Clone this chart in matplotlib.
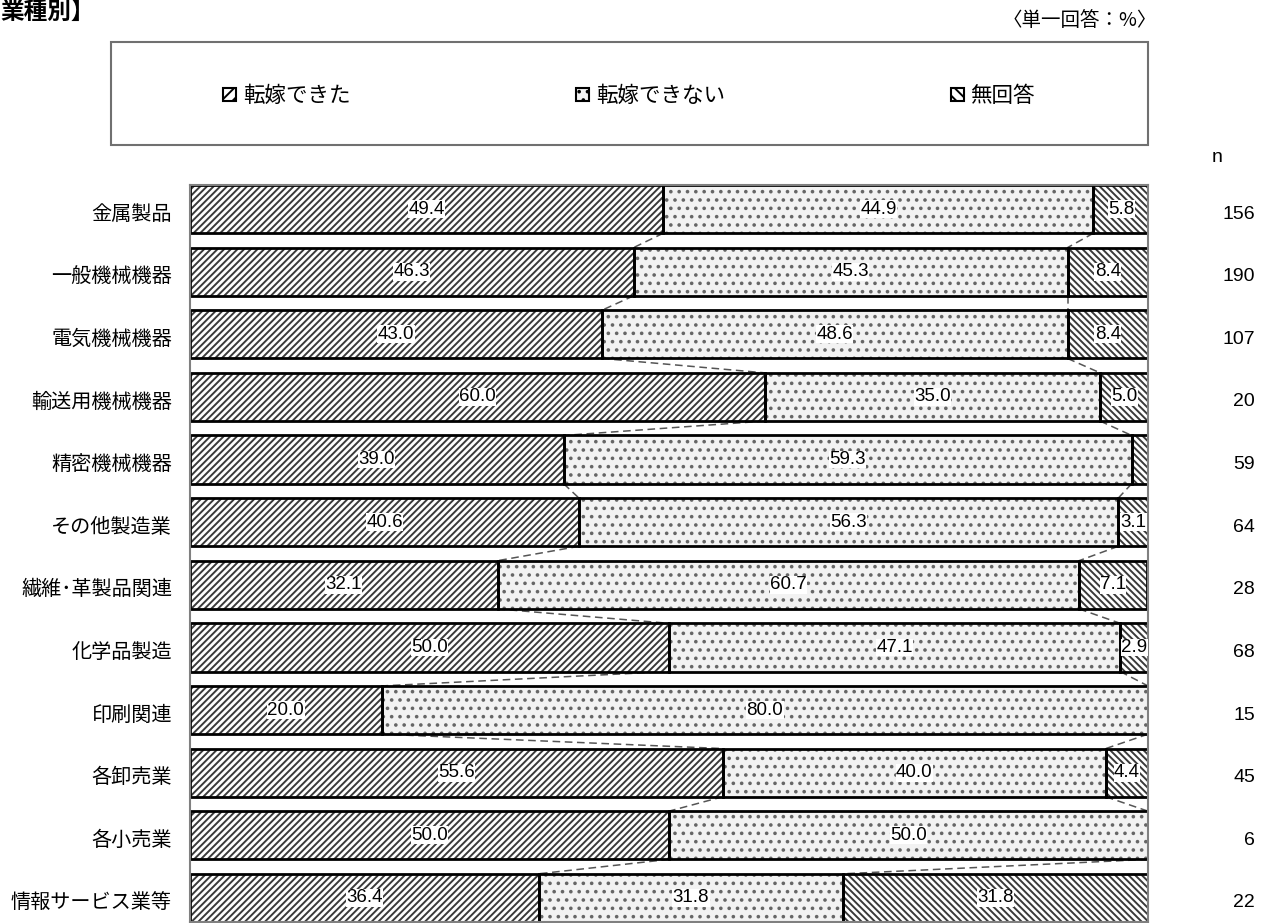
import matplotlib
matplotlib.use("Agg")
import matplotlib.pyplot as plt
import matplotlib.transforms as mtransforms
from matplotlib.patches import Patch, Rectangle
import numpy as np

plt.rcParams['font.family'] = ['Noto Sans CJK JP', 'DejaVu Sans']
plt.rcParams['hatch.linewidth'] = 1.4

categories = ['金属製品', '一般機械機器', '電気機械機器', '輸送用機械機器', '精密機械機器',
              'その他製造業', '繊維･革製品関連', '化学品製造', '印刷関連', '各卸売業',
              '各小売業', '情報サービス業等']
passed = [49.4, 46.3, 43.0, 60.0, 39.0, 40.6, 32.1, 50.0, 20.0, 55.6, 50.0, 36.4]
not_passed = [44.9, 45.3, 48.6, 35.0, 59.3, 56.3, 60.7, 47.1, 80.0, 40.0, 50.0, 31.8]
no_answer = [5.8, 8.4, 8.4, 5.0, 1.7, 3.1, 7.1, 2.9, 0.0, 4.4, 0.0, 31.8]
n_values = [156, 190, 107, 20, 59, 64, 28, 68, 15, 45, 6, 22]
series_names = ['転嫁できた', '転嫁できない', '無回答']

W, H = 1267, 923
fig = plt.figure(figsize=(W / 100, H / 100), dpi=100)
ax = fig.add_axes([190 / W, 1 - 922 / H, (1148 - 190) / W, (922 - 185) / H])

series = [passed, not_passed, no_answer]
styles = [dict(facecolor='white', hatch='/////', hcolor='#3a3a3a'),
          dict(facecolor='#f2f2f2', hatch='..', hcolor='#666666'),
          dict(facecolor='white', hatch='\\\\\\\\\\', hcolor='#3a3a3a')]
bh = 0.77
y = np.arange(len(categories))
left = np.zeros(len(categories))
cums = []
for vals, st in zip(series, styles):
    vals = np.array(vals)
    ax.barh(y, vals, left=left, height=bh, facecolor=st['facecolor'], hatch=st['hatch'],
            edgecolor=st['hcolor'], linewidth=0, zorder=1)
    ax.barh(y, vals, left=left, height=bh, facecolor='none', edgecolor='black',
            linewidth=2.0, zorder=2)
    for yi, (l, v) in enumerate(zip(left, vals)):
        if v >= 2:
            ax.text(l + v / 2, yi, f'{v:.1f}', ha='center', va='center',
                    fontsize=13.5, family='Liberation Sans', zorder=3,
                    bbox=dict(facecolor='white', edgecolor='none', pad=0.3))
    left = left + vals
    cums.append(left.copy())

# connector lines
for cum in cums[:2]:
    for i in range(len(categories) - 1):
        ax.plot([cum[i], cum[i + 1]], [i + bh / 2, i + 1 - bh / 2], color='#555555',
                linestyle=(0, (5, 3)), linewidth=1.1, zorder=0.5)

ax.set_xlim(0, 100)
ax.set_ylim(len(categories) - 1 + 0.385, -0.385)
ax.set_xticks([])
ax.set_yticks([])
for s in ax.spines.values():
    s.set_color('#808080')
    s.set_linewidth(1.5)

# category labels and n column (slightly below bar centre as in reference)
ytr = ax.get_yaxis_transform()
lab_tr = ytr + mtransforms.ScaledTranslation(-18 / 100, -5 / 100, fig.dpi_scale_trans)
n_tr = ytr + mtransforms.ScaledTranslation((1255 - 1148) / 100, -5 / 100, fig.dpi_scale_trans)
for i, (c, nv) in enumerate(zip(categories, n_values)):
    ax.text(0, i, c, transform=lab_tr, ha='right', va='center', fontsize=14.5, clip_on=False)
    ax.text(1, i, str(nv), transform=n_tr, ha='right', va='center', fontsize=14,
            family='Liberation Sans', clip_on=False)
fig.text(1212 / W, 1 - 157 / H, 'n', fontsize=14, family='Liberation Sans', ha='left', va='center')

# legend box
fig.patches.append(Rectangle((111 / W, 1 - 145 / H), (1148 - 111) / W, (145 - 42) / H,
                             transform=fig.transFigure, facecolor='none', edgecolor='#707070',
                             linewidth=1.5))
handles = [Patch(facecolor=st['facecolor'], hatch=st['hatch'][:3], edgecolor='black',
                 linewidth=1.5, label=n) for n, st in zip(series_names, styles)]
fig.legend(handles=handles, loc='center', bbox_to_anchor=(629 / W, 1 - 96 / H), ncol=3,
           frameon=False, fontsize=15.5, handlelength=0.6, handleheight=0.6,
           handletextpad=0.3, columnspacing=10.5)

fig.text(0.0, 1 - 12 / H, '業種別】', fontsize=17, fontweight='bold', ha='left', va='center')
fig.text(1157 / W, 1 - 20 / H, '〈単一回答：%〉', fontsize=14, ha='right', va='center')

fig.savefig('out.png', dpi=100)
